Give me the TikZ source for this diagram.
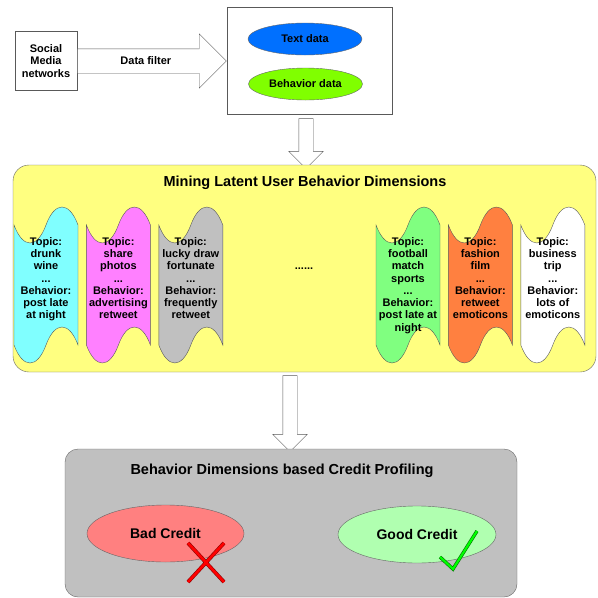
\documentclass[tikz,border=0pt]{standalone}
\usepackage{fontspec}
\setmainfont{Liberation Sans}
\usetikzlibrary{positioning, shapes.geometric, shapes.symbols, shapes.arrows}
\definecolor{textblue}{RGB}{0,112,255}
\definecolor{behavgreen}{RGB}{128,255,0}
\definecolor{panelyellow}{RGB}{255,255,128}
\definecolor{panelgray}{RGB}{192,192,192}
\definecolor{dimcyan}{RGB}{128,255,255}
\definecolor{dimpink}{RGB}{255,128,255}
\definecolor{dimgray}{RGB}{192,192,192}
\definecolor{dimgreen}{RGB}{128,255,128}
\definecolor{dimorange}{RGB}{255,128,64}
\definecolor{badred}{RGB}{255,128,128}
\definecolor{goodgreen}{RGB}{176,255,176}
\tikzset{
  box/.style={draw=black!65, fill=white, align=center, inner sep=0pt},
  panel/.style={draw=black!60, rounded corners=16pt, inner sep=0pt},
  blob/.style={draw=black!60, ellipse, inner sep=0pt},
  fatarrow/.style={single arrow, draw=black!65, fill=white, inner sep=7pt, single arrow tip angle=90, single arrow head indent=0pt},
  dimbox/.style={tape, draw=black!65, minimum width=64pt, minimum height=156pt, tape bend height=36pt, inner sep=0pt},
  dimtext/.style={align=center, inner sep=0pt, anchor=north},
  title/.style={font=\fontsize{14.5}{16}\selectfont\bfseries},
  crossmark/.style={draw=red!55!black, double=red, line width=0.6pt, double distance=2.6pt},
  tickmark/.style={draw=green!45!black, double=green, line width=0.6pt, double distance=2.2pt},
  every node/.style={font=\fontsize{11}{12.3}\selectfont\bfseries}
}
\begin{document}
\begin{tikzpicture}[x=1pt, y=-1pt]
    \useasboundingbox (0,0) rectangle (598,598);
    % data collection
    \node[box, minimum width=62pt, minimum height=59pt] (social) at (46,61) {Social\\Media\\networks};
    \node[fatarrow, minimum height=149pt, text height=8pt, text depth=2pt, single arrow head extend=15pt, right=0pt of social] (filter) {Data filter};
    \node[box, minimum width=165pt, minimum height=107pt, right=0pt of filter] (store) {};
    \node[blob, fill=textblue, minimum width=114pt, minimum height=32pt] (textdata) at (305,39) {Text data};
    \node[blob, fill=behavgreen, minimum width=114pt, minimum height=32pt] (behavdata) at (305.5,84) {Behavior data};
    \node[fatarrow, shape border rotate=270, minimum height=50pt, single arrow head extend=10pt] (down1) at (306,140) {};
    % latent dimensions
    \node[panel, fill=panelyellow, minimum width=583pt, minimum height=207pt] (mining) at (304.5,268.5) {};
    \node[title] (miningtitle) at (305,183) {Mining Latent User Behavior Dimensions};
    \node[dimbox, fill=dimcyan] (dim1) at (46,285) {};
    \node[dimbox, fill=dimpink, right=8pt of dim1] (dim2) {};
    \node[dimbox, fill=dimgray, right=8pt of dim2] (dim3) {};
    \node[dimbox, fill=dimgreen] (dim4) at (408,285) {};
    \node[dimbox, fill=dimorange, right=8pt of dim4] (dim5) {};
    \node[dimbox, fill=white, right=8pt of dim5] (dim6) {};
    \node[dimtext] (topic1) at (dim1 |- 0,237) {Topic:\\drunk\\wine\\...\\Behavior:\\post late\\at night};
    \node[dimtext] (topic2) at (dim2 |- 0,237) {Topic:\\share\\photos\\...\\Behavior:\\advertising\\retweet};
    \node[dimtext] (topic3) at (dim3 |- 0,237) {Topic:\\lucky draw\\fortunate\\...\\Behavior:\\frequently\\retweet};
    \node[dimtext] (topic4) at (dim4 |- 0,237) {Topic:\\football\\match\\sports\\...\\Behavior:\\post late at\\night};
    \node[dimtext] (topic5) at (dim5 |- 0,237) {Topic:\\fashion\\film\\...\\Behavior:\\retweet\\emoticons};
    \node[dimtext] (topic6) at (dim6 |- 0,237) {Topic:\\business\\trip\\...\\Behavior:\\lots of\\emoticons};
    \node (dots) at (304,269) {......};
    \node[fatarrow, shape border rotate=270, minimum height=76pt, single arrow head extend=10pt] (down2) at (290,410) {};
    % credit profiling
    \node[panel, fill=panelgray, rounded corners=13pt, minimum width=452pt, minimum height=148pt] (profile) at (291,523) {};
    \node[title] (profiletitle) at (282,471) {Behavior Dimensions based Credit Profiling};
    \node[blob, fill=badred, minimum width=157pt, minimum height=57pt, font=\fontsize{14}{16}\selectfont\bfseries] (bad) at (165.5,533.5) {Bad Credit};
    \node[blob, fill=goodgreen, minimum width=158pt, minimum height=57pt, font=\fontsize{14}{16}\selectfont\bfseries] (good) at (417,534.5) {Good Credit};
    \draw[crossmark] (188,543) -- (224,582) (224,543) -- (188,582);
    \draw[tickmark] (440,557) -- (453,569) -- (477,531);
\end{tikzpicture}
\end{document}
